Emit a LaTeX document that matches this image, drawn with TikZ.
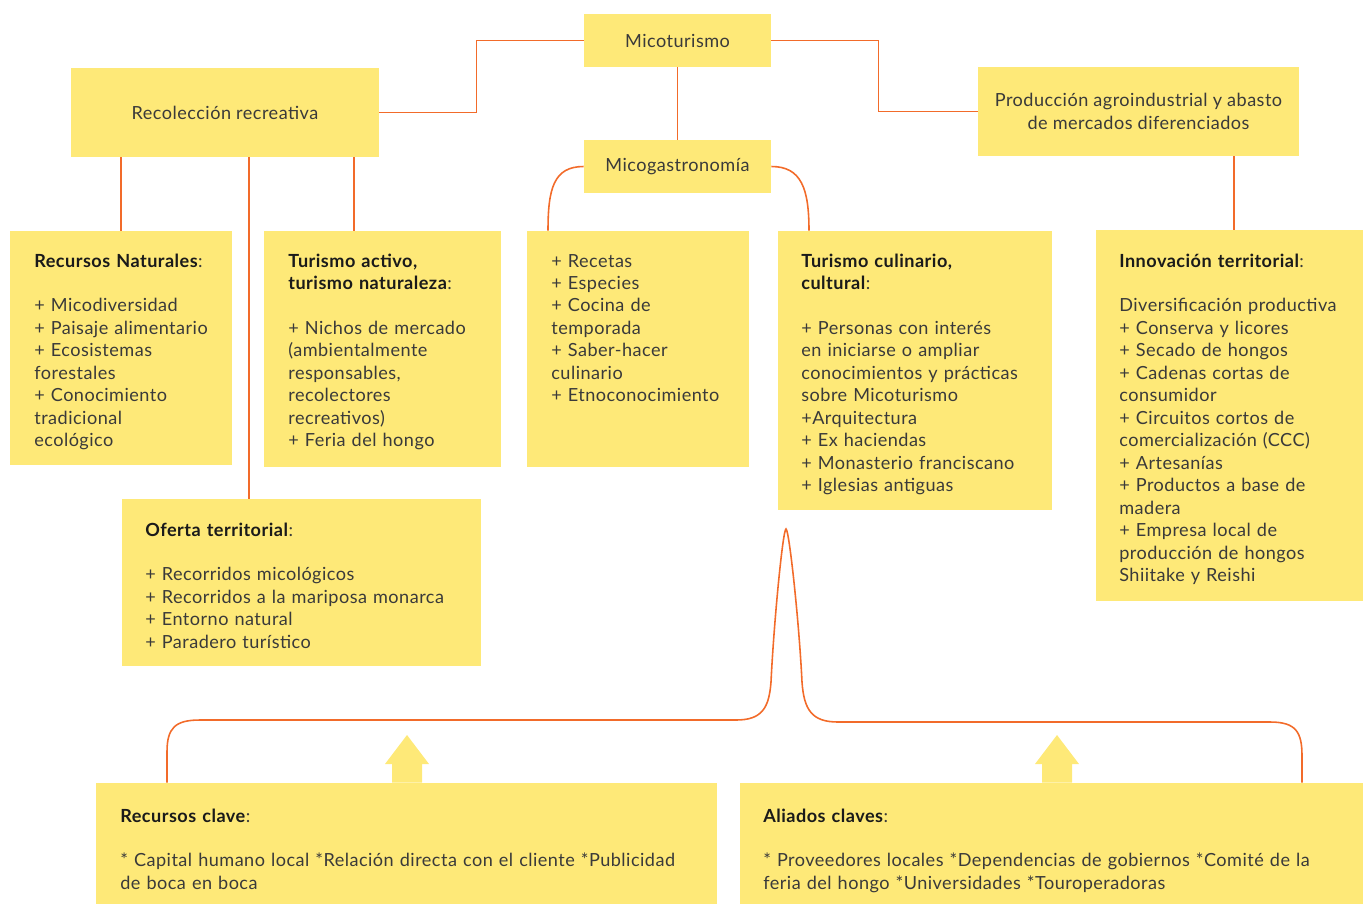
\documentclass[tikz,border=0pt]{standalone}
\usepackage{fontspec}
\setmainfont{Lato}[LetterSpace=2.6]
\usepackage{tikz}
\usetikzlibrary{fit}

\definecolor{mcyellow}{HTML}{FEE978}
\definecolor{mcorange}{HTML}{F26B2A}
\definecolor{mctext}{HTML}{3A3A3A}
\definecolor{mchead}{HTML}{1A1A1A}

\tikzset{
  box/.style={fill=mcyellow, inner sep=0pt},
  txt/.style={anchor=base west, align=left, inner sep=0pt, text=mctext,
    font=\fontsize{10.3}{12.8}\selectfont},
  title/.style={align=center, inner sep=0pt, text=mctext,
    font=\fontsize{10.3}{12.8}\selectfont},
  link/.style={draw=mcorange, line width=0.9pt},
}
\newcommand{\hd}[1]{\textcolor{mchead}{\textbf{#1}}}

\begin{document}
\begin{tikzpicture}[x=0.02cm,y=-0.02cm]
\useasboundingbox (0,0) rectangle (1363,904);

% top row
\node[box, fit={(584,14) (771,67)}] (mt) {};
\node[title] (mtl) at (mt.center) {Micoturismo};
\node[box, fit={(71,68) (379,157)}] (rr) {};
\node[title] (rrl) at (rr.center) {Recolección recreativa};
\node[box, fit={(978,67) (1299,156)}] (pa) {};
\node[title] (pal) at (pa.center) {Producción agroindustrial y abasto\\de mercados diferenciados};
\node[box, fit={(584,140) (771,193)}] (mg) {};
\node[title] (mgl) at (mg.center) {Micogastronomía};

% second row
\node[box, fit={(10,231) (232,465)}] (rn) {};
\node[txt, text width=4.2cm] (rnt) at (34,267) {\hd{Recursos Naturales}:\\[12.8pt]
+ Micodiversidad\\+ Paisaje alimentario\\+ Ecosistemas\\forestales\\+ Conocimiento\\tradicional\\ecológico};
\node[box, fit={(264,231) (501,467)}] (ta) {};
\node[txt, text width=4.5cm] (tat) at (288,267) {\hd{Turismo activo,}\\\hd{turismo naturaleza}:\\[12.8pt]
+ Nichos de mercado\\(ambientalmente\\responsables,\\recolectores\\recreativos)\\+ Feria del hongo};
\node[box, fit={(527,231) (749,467)}] (rc) {};
\node[txt, text width=4.2cm] (rct) at (551,267) {+ Recetas\\+ Especies\\+ Cocina de\\temporada\\+ Saber-hacer\\culinario\\+ Etnoconocimiento};
\node[box, fit={(778,231) (1052,510)}] (tc) {};
\node[txt, text width=5.2cm] (tct) at (801,267) {\hd{Turismo culinario,}\\\hd{cultural}:\\[12.8pt]
+ Personas con interés\\en iniciarse o ampliar\\conocimientos y prácticas\\sobre Micoturismo\\+Arquitectura\\+ Ex haciendas\\+ Monasterio franciscano\\+ Iglesias antiguas};
\node[box, fit={(1096,230) (1363,601)}] (it) {};
\node[txt, text width=5.0cm] (itt) at (1119,267) {\hd{Innovación territorial}:\\[12.8pt]
Diversificación productiva\\+ Conserva y licores\\+ Secado de hongos\\+ Cadenas cortas de\\consumidor\\+ Circuitos cortos de\\comercialización (CCC)\\+ Artesanías\\+ Productos a base de\\madera\\+ Empresa local de\\producción de hongos\\Shiitake y Reishi};
\node[box, fit={(122,499) (481,666)}] (ot) {};
\node[txt, text width=7cm] (ott) at (145,536) {\hd{Oferta territorial}:\\[12.8pt]
+ Recorridos micológicos\\+ Recorridos a la mariposa monarca\\+ Entorno natural\\+ Paradero turístico};

% bottom row
\node[box, fit={(96,783) (717,904)}] (rk) {};
\node[txt, text width=12.2cm] (rkt) at (120,822) {\hd{Recursos clave}:\\[12.8pt]
* Capital humano local *Relación directa con el cliente *Publicidad\\de boca en boca};
\node[box, fit={(740,783) (1363,904)}] (ac) {};
\node[txt, text width=12.2cm] (act) at (763,822) {\hd{Aliados claves}:\\[12.8pt]
* Proveedores locales *Dependencias de gobiernos *Comité de la\\feria del hongo *Universidades *Touroperadoras};

% connectors
\draw[link] (mt.west) -- ++(-107,0) |- (rr.east);
\draw[link] (mt.east) -- ++(107,0) |- (pa.west);
\draw[link] (mt) -- (mg);
\draw[link] (rr.south -| rn.north) -- (rn.north);
\draw[link] (rr.south -| 354,0) -- (ta.north -| 354,0);
\draw[link] (rr.south -| 249,0) -- (ot.north -| 249,0);
\draw[link] (pa.south -| 1234,0) -- (it.north -| 1234,0);
\draw[link] (mg.west) .. controls +(-30,0) and +(0,-42) .. (rc.north -| 548,0);
\draw[link] (mg.east) .. controls +(30,0) and +(0,-42) .. (tc.north -| 809,0);

% brace
\coordinate (peak) at (786,529);
\draw[link] (rk.north -| 167,0) -- (167,752) .. controls (167,728) and (175,720) .. (200,720)
  -- (736,720) .. controls (762,720) and (769,708) .. (771,682)
  .. controls (774,620) and (783,529) .. (peak)
  .. controls (789,529) and (799,620) .. (802,682)
  .. controls (804,710) and (812,722) .. (838,722)
  -- (1270,722) .. controls (1296,722) and (1302,732) .. (1302,756) -- (ac.north -| 1302,0);

% arrows
\foreach \ax/\b in {407/rk,1057/ac}
  {\fill[mcyellow] (\b.north -| \ax-15,0) -- (\ax-15,764) -- (\ax-22,764) -- (\ax,735)
    -- (\ax+22,764) -- (\ax+15,764) -- (\b.north -| \ax+15,0) -- cycle;}
\end{tikzpicture}
\end{document}
